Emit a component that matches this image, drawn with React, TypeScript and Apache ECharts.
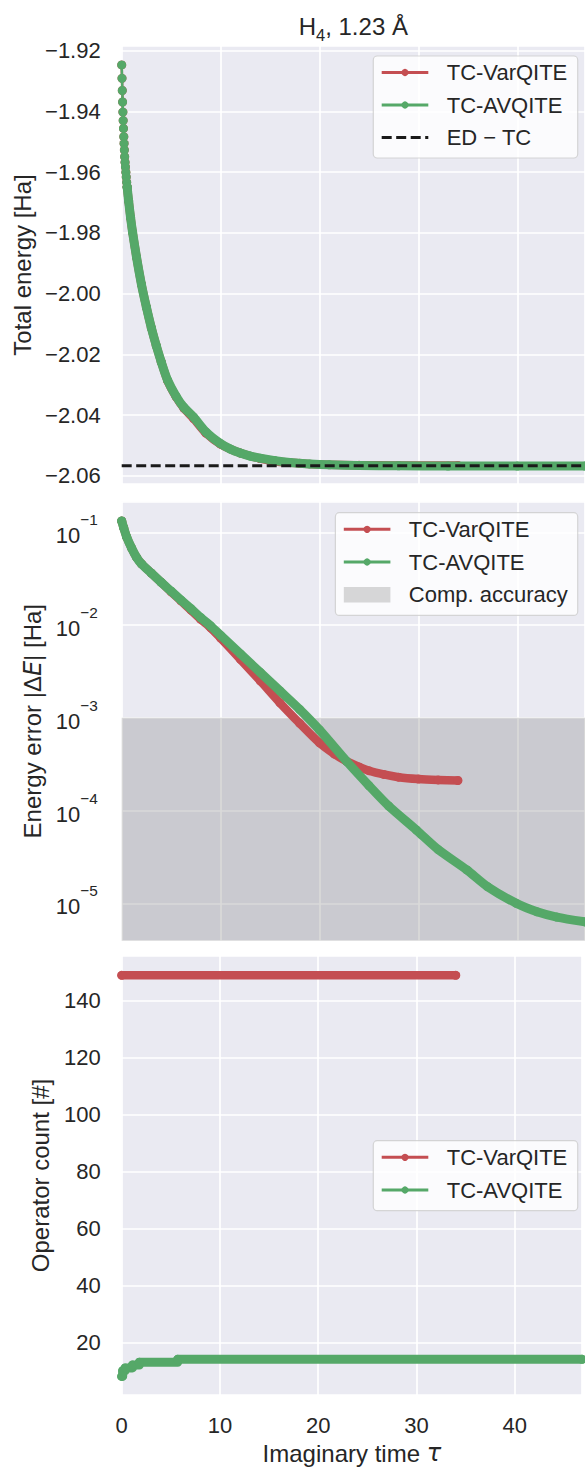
import React, { useEffect, useRef } from "react";
import * as echarts from "echarts";

// ---------------- data ----------------
const tauMax = 46.85; // visible end of the imaginary-time axis
const edTcEnergy = -2.0567; // ED - TC reference energy [Ha]
const compAccuracy = 1e-3; // computational accuracy band top
const sparseStart = 0.55; // beyond this tau the markers merge into a solid band

// Total energy [Ha] vs imaginary time
const energyVarQITE: [number, number][] = [
  [0, -1.9247], [0.03, -1.9291], [0.06, -1.9331], [0.09, -1.9369], [0.12, -1.9402],
  [0.15, -1.943], [0.18, -1.9456], [0.21, -1.9483], [0.24, -1.9506], [0.27, -1.9527],
  [0.3, -1.9549], [0.34, -1.9567], [0.38, -1.9583], [0.42, -1.96], [0.46, -1.9616],
  [0.5, -1.9633], [0.55, -1.9649], [0.7, -1.9695], [0.9, -1.975], [1.1, -1.9798],
  [1.5, -1.988], [2.0, -1.997], [2.5, -2.0045], [3.0, -2.0113], [3.5, -2.0172],
  [4.0, -2.0225], [4.64, -2.0287], [5.5, -2.034], [6.3, -2.0378], [7.28, -2.0412],
  [8.5, -2.0459], [10, -2.0496], [12, -2.0525], [14, -2.0543], [16, -2.0554],
  [18, -2.0559], [20, -2.0563], [24, -2.0565], [28, -2.0566], [34, -2.0566],
];
const energyAVQITE: [number, number][] = [
  [0, -1.9247], [0.03, -1.9291], [0.06, -1.9331], [0.09, -1.9369], [0.12, -1.9402],
  [0.15, -1.943], [0.18, -1.9456], [0.21, -1.9483], [0.24, -1.9506], [0.27, -1.9527],
  [0.3, -1.9549], [0.34, -1.9567], [0.38, -1.9583], [0.42, -1.96], [0.46, -1.9616],
  [0.5, -1.9633], [0.55, -1.9649], [0.7, -1.9695], [0.9, -1.975], [1.1, -1.9798],
  [1.5, -1.988], [2.0, -1.997], [2.5, -2.0045], [3.0, -2.0113], [3.5, -2.0172],
  [4.0, -2.0225], [4.64, -2.0285], [5.5, -2.0338], [6.3, -2.0375], [7.28, -2.0407],
  [8.5, -2.0455], [9.9, -2.0492], [11, -2.0512], [12, -2.0525], [13, -2.0535],
  [14, -2.0542], [15.5, -2.055], [17, -2.0556], [19, -2.0561], [21, -2.0564],
  [24, -2.0566], [28, -2.0567], [33, -2.0568], [40, -2.0568], [46.85, -2.0568],
];

// Energy error |dE| [Ha] vs imaginary time
const errorVarQITE: [number, number][] = [
  [0, 0.1324], [0.2, 0.112], [0.5, 0.0891], [1.0, 0.0676], [1.5, 0.0537],
  [2.0, 0.0457], [3, 0.0363], [4, 0.0288], [5, 0.0228], [6, 0.0182], [7, 0.0145],
  [8, 0.0115], [9, 0.00933], [10, 0.00724], [12, 0.00427], [14, 0.00251],
  [16, 0.00145], [18, 0.000871], [20, 0.000537], [21.5, 0.000407], [22.75, 0.000339],
  [24, 0.000295], [25, 0.000269], [26.5, 0.000245], [28, 0.000229], [30, 0.000219],
  [32, 0.000214], [34, 0.000211],
];
const errorAVQITE: [number, number][] = [
  [0, 0.1324], [0.2, 0.112], [0.5, 0.0891], [1.0, 0.0676], [1.5, 0.0537],
  [2.0, 0.0457], [3, 0.0363], [4, 0.0288], [5, 0.0232], [6, 0.0186], [7, 0.015],
  [8, 0.012], [9, 0.00977], [10, 0.00776], [12, 0.0049], [14, 0.00309],
  [16, 0.00195], [18, 0.00123], [20, 0.000741], [22.75, 0.000339], [25, 0.000186],
  [27, 0.000112], [29.8, 0.0000617], [32, 0.000038], [34.9, 0.0000229],
  [37, 0.0000151], [39.9, 0.00001], [42, 0.0000081], [44, 0.0000071], [46.85, 0.0000063],
];

// Operator count [#] vs imaginary time
const opCountVarQITE: [number, number][] = [[0, 149], [34, 149]];
const opCountAVQITE: [number, number][] = [
  [0, 8], [0.1, 10], [0.35, 11], [1.1, 12], [1.8, 13], [5.7, 14], [46.85, 14],
];

const seriesNames = ["TC-VarQITE", "TC-AVQITE"];

// ---------------- style ----------------
const RED = "#C44E52";
const GREEN = "#55A868";
const BG = "#EAEAF2";
const TXT = "#262626";
const FONT = "Liberation Sans";
const SHADE = "rgba(128,128,128,0.3)";

const GRID_LEFT = 121.7;
const GRID_W = 585 - GRID_LEFT;

const near = (v: number, step: number) => Math.abs(v / step - Math.round(v / step)) < 1e-6;

function App() {
  const ref = useRef<HTMLDivElement>(null);
  useEffect(() => {
    const chart = echarts.init(ref.current!, undefined, { renderer: "svg" });

    const splitLine = { show: true, lineStyle: { color: "#ffffff", width: 1.7 } };
    const xBase = (i: number) => ({
      type: "value",
      gridIndex: i,
      min: 0,
      max: tauMax,
      splitNumber: 5,
      axisLine: { show: false },
      axisTick: { show: false },
      splitLine,
      axisLabel: {
        show: i === 2,
        fontSize: 22,
        color: TXT,
        fontFamily: FONT,
        margin: 19,
        formatter: (v: number) => (near(v, 10) ? String(Math.round(v)) : ""),
      },
    });

    const lineSeries = (name: string, data: any, color: string, xi: number, width: number, extra: any = {}) => ({
      type: "line",
      name,
      xAxisIndex: xi,
      yAxisIndex: xi,
      data,
      symbol: "circle",
      symbolSize: 9,
      showSymbol: true,
      showAllSymbol: true,
      itemStyle: { color },
      lineStyle: { color, width, cap: "round", join: "round" },
      z: color === GREEN ? 4 : 3,
      ...extra,
    });
    const smoothOpts = { smooth: 0.25 };
    const early = (d: [number, number][]) => d.filter((p) => p[0] <= sparseStart);
    const late = (d: [number, number][]) => d.filter((p) => p[0] >= sparseStart);

    const legendEntry = (hx: number, cy: number, color: string, label: string, kind: string) => {
      const els: any[] = [];
      if (kind === "line") {
        els.push({ type: "line", z: 101, shape: { x1: hx, y1: cy, x2: hx + 46.6, y2: cy }, style: { stroke: color, lineWidth: 3 } });
        els.push({ type: "circle", z: 102, shape: { cx: hx + 23.3, cy, r: 3.6 }, style: { fill: color } });
      } else if (kind === "dash") {
        els.push({ type: "line", z: 101, shape: { x1: hx, y1: cy, x2: hx + 46.6, y2: cy }, style: { stroke: color, lineWidth: 3, lineDash: [10, 4.5] } });
      } else {
        els.push({ type: "rect", z: 101, shape: { x: hx, y: cy - 7.7, width: 46.6, height: 15.4 }, style: { fill: SHADE } });
      }
      els.push({
        type: "text", z: 102, x: hx + 65, y: cy,
        style: { text: label, fontSize: 22, fontFamily: FONT, fill: TXT, verticalAlign: "middle", align: "left" },
      });
      return els;
    };
    const legendBox = (x: number, y: number, h: number) => ({
      type: "rect", z: 100,
      shape: { x, y, width: 577.7 - x, height: h, r: 4 },
      style: { fill: "rgba(255,255,255,0.8)", stroke: "rgba(204,204,204,0.8)", lineWidth: 1.2 },
    });

    const option: any = {
      animation: false,
      textStyle: { fontFamily: FONT },
      grid: [
        { left: GRID_LEFT, top: 46, width: GRID_W, height: 438, show: true, backgroundColor: BG, borderWidth: 0 },
        { left: GRID_LEFT, top: 501.7, width: GRID_W, height: 439, show: true, backgroundColor: BG, borderWidth: 0 },
        { left: GRID_LEFT, top: 956, width: GRID_W, height: 439, show: true, backgroundColor: BG, borderWidth: 0 },
      ],
      xAxis: [
        xBase(0),
        xBase(1),
        {
          ...xBase(2),
          name: "Imaginary time {t|τ}",
          nameLocation: "middle",
          nameGap: 46,
          nameTextStyle: {
            fontSize: 24, color: TXT, fontFamily: FONT,
            rich: { t: { fontSize: 24, fontStyle: "italic", fontFamily: "DejaVu Sans", color: TXT } },
          },
        },
      ],
      yAxis: [
        {
          type: "value", gridIndex: 0, min: -2.0627, max: -1.91845, splitNumber: 7,
          axisLine: { show: false }, axisTick: { show: false }, splitLine,
          axisLabel: {
            fontSize: 22, color: TXT, fontFamily: FONT, margin: 21,
            formatter: (v: number) => (near(v, 0.02) ? (v < 0 ? "\u2212" : "") + Math.abs(v).toFixed(2) : ""),
          },
          name: "Total energy [Ha]", nameLocation: "middle", nameRotate: 90, nameGap: 87,
          nameTextStyle: { fontSize: 24, color: TXT, fontFamily: FONT },
        },
        {
          type: "log", logBase: 10, gridIndex: 1, min: 3.952e-6, max: 0.2138,
          axisLine: { show: false }, axisTick: { show: false }, splitLine,
          minorTick: { show: false }, minorSplitLine: { show: false },
          axisLabel: {
            color: TXT, fontFamily: FONT, margin: 24,
            formatter: (v: number) => {
              const lg = Math.log10(v);
              if (Math.abs(lg - Math.round(lg)) > 1e-6) return "";
              const n = Math.round(lg);
              return "{b|10}{s|" + (n < 0 ? "\u2212" : "") + Math.abs(n) + "}";
            },
            rich: {
              b: { fontSize: 22, lineHeight: 22, padding: [7, 0, 0, 0], color: TXT, fontFamily: FONT },
              s: { fontSize: 15.4, lineHeight: 15, padding: [0, 0, 25, 0], color: TXT, fontFamily: FONT },
            },
          },
          name: "Energy error |Δ{e|E}| [Ha]", nameLocation: "middle", nameRotate: 90, nameGap: 75,
          nameTextStyle: {
            fontSize: 24, color: TXT, fontFamily: FONT,
            rich: { e: { fontSize: 24, fontStyle: "italic", fontFamily: "DejaVu Sans", color: TXT } },
          },
        },
        {
          type: "value", gridIndex: 2, min: 1.47, max: 155.8, splitNumber: 8,
          axisLine: { show: false }, axisTick: { show: false }, splitLine,
          axisLabel: {
            fontSize: 22, color: TXT, fontFamily: FONT, margin: 21,
            formatter: (v: number) => (near(v, 20) ? String(Math.round(v)) : ""),
          },
          name: "Operator count [#]", nameLocation: "middle", nameRotate: 90, nameGap: 69,
          nameTextStyle: { fontSize: 24, color: TXT, fontFamily: FONT },
        },
      ],
      series: [
        lineSeries(seriesNames[0], early(energyVarQITE), RED, 0, 2.5),
        lineSeries(seriesNames[0], late(energyVarQITE), RED, 0, 8.5, smoothOpts),
        lineSeries(seriesNames[1], early(energyAVQITE), GREEN, 0, 2.5),
        lineSeries(seriesNames[1], late(energyAVQITE), GREEN, 0, 9, smoothOpts),
        {
          type: "line", name: "ED - TC", xAxisIndex: 0, yAxisIndex: 0,
          data: [[0, edTcEnergy], [tauMax, edTcEnergy]],
          symbol: "none", z: 5,
          lineStyle: { color: "#1a1a1a", width: 3, type: [10, 4.5] },
        },
        {
          type: "line", name: "Comp. accuracy", xAxisIndex: 1, yAxisIndex: 1, data: [], z: 1,
          markArea: {
            silent: true,
            itemStyle: { color: SHADE },
            data: [[{ coord: [0, compAccuracy] }, { coord: [tauMax, 3.952e-6] }]],
          },
        },
        lineSeries(seriesNames[0], errorVarQITE, RED, 1, 8.5, smoothOpts),
        lineSeries(seriesNames[1], errorAVQITE, GREEN, 1, 9, smoothOpts),
        lineSeries(seriesNames[0], opCountVarQITE, RED, 2, 8.5),
        lineSeries(seriesNames[1], opCountAVQITE, GREEN, 2, 9, { step: "end" }),
      ],
      graphic: [
        {
          type: "text", z: 100, x: 353.3, y: 26,
          style: {
            text: "{a|H}{s|4}{a|, 1.23 Å}",
            align: "center", verticalAlign: "middle",
            rich: {
              a: { fontSize: 24, lineHeight: 28, fontFamily: FONT, fill: TXT },
              s: { fontSize: 16.5, lineHeight: 16, padding: [17, 0, 0, 0], fontFamily: FONT, fill: TXT },
            },
          },
        },
        legendBox(373.3, 56, 102),
        ...legendEntry(381.7, 72.5, RED, seriesNames[0], "line"),
        ...legendEntry(381.7, 105, GREEN, seriesNames[1], "line"),
        ...legendEntry(381.7, 137.5, "#1a1a1a", "ED \u2212 TC", "dash"),
        legendBox(335.4, 512.7, 102.7),
        ...legendEntry(343.8, 529.3, RED, seriesNames[0], "line"),
        ...legendEntry(343.8, 562, GREEN, seriesNames[1], "line"),
        ...legendEntry(343.8, 594.7, SHADE, "Comp. accuracy", "patch"),
        legendBox(373.3, 1140.7, 70),
        ...legendEntry(381.7, 1157.3, RED, seriesNames[0], "line"),
        ...legendEntry(381.7, 1190, GREEN, seriesNames[1], "line"),
      ],
    };
    chart.setOption(option);
    return () => chart.dispose();
  }, []);
  return <div ref={ref} style={{ position: "absolute", left: 0, top: 0, width: 585, height: 1467 }} />;
}

export default App;
